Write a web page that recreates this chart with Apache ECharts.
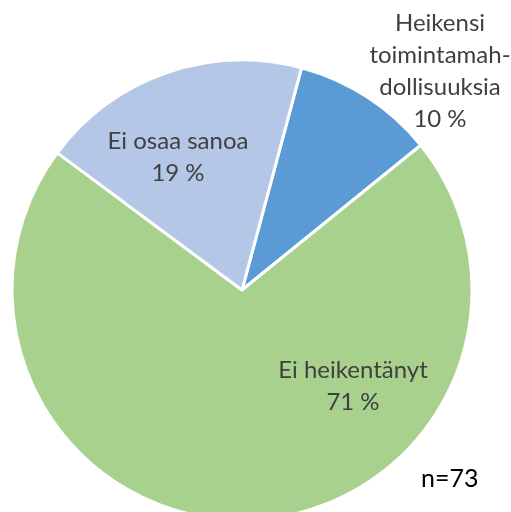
<!DOCTYPE html>
<html>
<head>
<meta charset="utf-8">
<script src="https://cdn.jsdelivr.net/npm/echarts@6/dist/echarts.min.js"></script>
<style>
  html, body { margin: 0; padding: 0; background: #fff; }
  #chart { width: 511px; height: 512px; }
</style>
</head>
<body>
<div id="chart"></div>
<script>
// data
var categories = ["Heikensi\ntoimintamah-\ndollisuuksia", "Ei heikentänyt", "Ei osaa sanoa"];
var values = [10, 71, 19];
var colors = ["#5B9BD5", "#A9D18E", "#B4C7E7"];
var note = "n=73";

// label anchor spots (centre of text block)
var labelSpots = [[440, 71], [353, 386], [178, 157]];

var chart = echarts.init(document.getElementById("chart"));
var option = {
  backgroundColor: "#fff",
  animation: false,
  series: [
    {
      type: "pie",
      center: [242, 290],
      radius: 230,
      startAngle: 75,
      clockwise: true,
      data: categories.map(function (c, i) {
        return { name: c, value: values[i], itemStyle: { color: colors[i] } };
      }),
      itemStyle: { borderColor: "#fff", borderWidth: 3 },
      label: {
        show: true,
        position: "inside",
        formatter: function (p) {
          return p.name + "\n" + Math.round(p.percent) + " %";
        },
        fontFamily: "Lato",
        fontSize: 24,
        lineHeight: 32,
        color: "#404040",
        align: "center"
      },
      labelLine: { show: false },
      labelLayout: function (params) {
        var s = labelSpots[params.dataIndex];
        return { x: s[0], y: s[1], align: "center", verticalAlign: "middle" };
      },
      emphasis: { disabled: true }
    }
  ],
  graphic: [
    {
      type: "text",
      left: 421,
      top: 466,
      style: { text: note, font: "25px Lato", fill: "#000" }
    }
  ]
};
chart.setOption(option);
</script>
</body>
</html>
